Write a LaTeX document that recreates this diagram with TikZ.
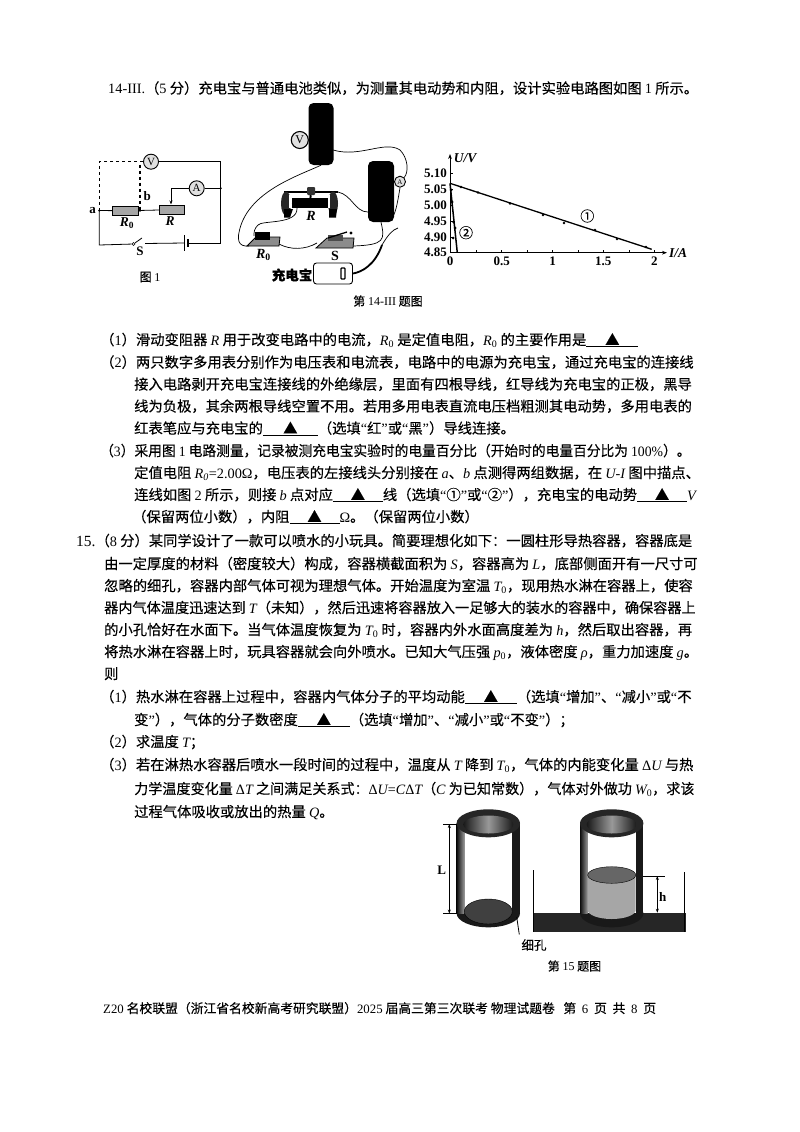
\documentclass[tikz,border=0pt]{standalone}
\usepackage{fontspec}
\usepackage{graphicx}
\setmainfont{Noto Sans CJK SC}[FakeBold=0.2]
\newfontfamily\latf{Liberation Serif}
\usetikzlibrary{arrows.meta}

\newcommand{\la}[1]{{\latf #1}}
\newcommand{\va}[1]{{\latf\itshape #1}}
\newcommand{\sbz}{\textsubscript{\latf 0}}
\newcommand{\blk}[1]{\underline{\makebox[#1pt]{▲}}}
\newcommand{\ql}{{\latf “}}
\newcommand{\qr}{{\latf ”}}

\tikzset{
  txt/.style={anchor=base west, inner sep=0pt, font=\fontsize{14.3}{17}\selectfont},
  cap14/.style={anchor=center, inner sep=0pt, font=\fontsize{12}{14}\selectfont},
  lbl/.style={anchor=center, inner sep=0pt, font=\fontsize{13}{15}\selectfont\latf\bfseries},
  ilbl/.style={anchor=center, inner sep=0pt, font=\fontsize{13.5}{15}\selectfont\latf\bfseries\itshape},
  ticklbl/.style={anchor=east, inner sep=0pt, font=\fontsize{13}{15}\selectfont\latf\bfseries},
  meter/.style={draw, circle, line width=0.9pt, fill=black!12, minimum size=15pt, inner sep=0pt, font=\fontsize{11}{12}\selectfont\latf},
  resbox/.style={draw, line width=0.9pt, fill=black!35, minimum width=26pt, minimum height=9.5pt, inner sep=0pt},
  wire/.style={line width=0.8pt},
  thinwire/.style={line width=0.7pt},
  cell/.style={draw=none, fill=black, rounded corners=3pt, inner sep=0pt},
  curveline/.style={line width=1.3pt},
  tickm/.style={line width=0.7pt},
  dimline/.style={line width=0.7pt, {Stealth[length=4pt]}-{Stealth[length=4pt]}},
}

\begin{document}
\begin{tikzpicture}[x=1pt, y=-1pt]

  \useasboundingbox (0,0) rectangle (800,1132);
  \fill[white] (0,0) rectangle (800,1132);

  \node (q14) [txt] at (108,93.5) {\la{14-III.}（\la{5} 分）充电宝与普通电池类似，为测量其电动势和内阻，设计实验电路图如图 \la{1} 所示。};

  % circuit
  \coordinate (tl) at (99.3,161.7);
  \coordinate (tm) at (140,161.7);
  \coordinate (tr) at (220.7,161.7);
  \coordinate (pa) at (99.3,210.5);
  \coordinate (pb) at (140,210.5);
  \coordinate (bl) at (99.3,245);
  \coordinate (br) at (220.7,243);
  \coordinate (am) at (220.7,188.3);
  \coordinate (sk) at (171,188.3);

  \node (vm) [meter] at (151,161.7) {V};
  \node (am1) [meter] at (196.7,188.3) {A};
  \node (r0) [resbox] at (125.3,210.8) {};
  \node (rr) [resbox, minimum width=25pt] at (171.8,209.7) {};
  \node (s1) [circle, draw, inner sep=0pt, minimum size=3pt, line width=0.7pt] at (133.5,244) {};
  \node (s2) at (145,243.5) [inner sep=0pt, minimum size=0pt] {};
  \node (bt1) at (184.5,243) [inner sep=0pt, minimum size=0pt] {};
  \node (bt2) at (188,243) [inner sep=0pt, minimum size=0pt] {};

  \draw[wire, dashed, line width=1.1pt] (vm) -- (tl) -- (pa);
  \draw[wire, dashed, line width=1.1pt] (vm) -| (pb);
  \draw[wire] (vm) -- (tr) -- (br) -- (bt2);
  \draw[wire] (pa) -- (r0);
  \draw[wire] (r0) -- (rr);
  \draw[wire] (pa) -- (bl) -- (s1);
  \draw[wire] (s1) -- (142,238);
  \draw[wire] (s2) -- (bt1);
  \draw[wire] (am1) -- (am);
  \draw[wire, -{Stealth[length=4pt]}] (am1) -- (sk) -- (rr.north -| sk);
  \draw[line width=1pt] (184.5,235) -- (184.5,251);
  \draw[line width=1.6pt] (188,239) -- (188,247);
  \fill (am) circle (1.2pt);
  \fill (pa) circle (1.2pt);
  \fill (pb) circle (1.4pt);

  \node (la) [lbl] at (92.7,210.5) {a};
  \node (lb) [lbl] at (147.3,196) {b};
  \node (lr0) [ilbl] at (127,223.5) {\textit{R}\textsubscript{\upshape 0}};
  \node (lr) [ilbl] at (170,221) {R};
  \node (ls) [lbl] at (140,251.5) {S};
  \node (lf1) [cap14] at (150,277) {图 \la{1}};

  % physical circuit
  \node (vcell) [cell, minimum width=25pt, minimum height=62pt, rounded corners=5pt] at (321,134) {};
  \node (acell) [cell, minimum width=26pt, minimum height=61pt, rounded corners=5pt] at (381,191.5) {};
  \node (vm2) [meter, minimum size=17pt, line width=1.1pt, font=\fontsize{12}{12}\selectfont\latf] at (299.8,140) {V};
  \node (am2) [meter, minimum size=11pt, font=\fontsize{7}{8}\selectfont\latf] at (400,181.7) {A};

  \draw[line width=1.2pt] (284,192) -- (338,192);
  \node (rbody) [draw=none, fill=black, minimum width=36pt, minimum height=10pt, inner sep=0pt] at (310,203) {};
  \node (rkn) [draw=none, fill=black!80, minimum width=8pt, minimum height=8pt, inner sep=0pt, rounded corners=1pt] at (311,191) {};
  \draw[line width=2pt] (rkn) -- (rbody);
  \fill[black!85] (286,203.5) ellipse [x radius=5pt, y radius=12pt];
  \fill[black!85] (333,203.5) ellipse [x radius=5pt, y radius=12pt];
  \fill[white] (289,195) rectangle (291,208);
  \fill[white] (328,195) rectangle (330,208);
  \fill (284,217.5) -- (290,217.5) -- (293,209) -- (284,209) -- cycle;
  \fill (329,217.5) -- (336,217.5) -- (337,209) -- (329,209) -- cycle;
  \node (lr2) [ilbl, font=\fontsize{14}{15}\selectfont\latf\bfseries\itshape] at (311,216) {R};

  \draw[line width=0.8pt, fill=black!45] (247,246) -- (279,246) -- (280,237) -- (256,237) -- cycle;
  \node (r0b) [draw=none, fill=black, minimum width=15pt, minimum height=8pt, inner sep=0pt] at (262,236) {};
  \node (lr02) [ilbl, font=\fontsize{14}{15}\selectfont\latf\bfseries\itshape] at (263.5,255) {\textit{R}\textsubscript{\upshape 0}};

  \draw[line width=0.8pt, fill=black!45] (316,248) -- (353,248) -- (354,238) -- (327,238) -- cycle;
  \node (swb) [draw=none, fill=black!70, minimum width=15pt, minimum height=6pt, inner sep=0pt] at (335,238) {};
  \draw[line width=1.3pt] (328,238) -- (347,232);
  \fill (351,233) circle (1.6pt);
  \node (ls2) [lbl, font=\fontsize{14}{15}\selectfont\latf\bfseries] at (335,256) {S};

  \node (pbank) [draw, rounded corners=3pt, line width=0.9pt, minimum width=39pt, minimum height=21pt, inner sep=0pt] at (333,273.5) {};
  \node (pdig) [draw, line width=1.2pt, rounded corners=0.8pt, minimum width=4pt, minimum height=11pt, inner sep=0pt] at (343,273.5) {};
  \node (lbank) [anchor=east, inner sep=0pt, font=\fontsize{13.5}{15}\selectfont\bfseries] at (312.5,275) {充电宝};

  \draw[thinwire] (vcell.south) .. controls (300,175) and (253,190) .. (241,225) .. controls (236,240) and (238,247) .. (249,246);
  \draw[thinwire] (333,150) .. controls (360,158) and (385,140) .. (400,150) .. controls (408,158) and (409,172) .. (am2.north east);
  \draw[thinwire] (am2.south) .. controls (398,200) and (396,212) .. (393,216);
  \draw[thinwire] (338,192) .. controls (352,195) and (355,212) .. (acell.west |- 0,212);
  \draw[thinwire] (acell.south) .. controls (385,240) and (385,245) .. (353,246);
  \draw[thinwire] (297,208) .. controls (298,225) and (262,220) .. (258,225) .. controls (254,229) and (254,232) .. (254,236);
  \draw[thinwire] (279,244) .. controls (290,250) and (305,250) .. (317,243);
  \draw[line width=1.8pt] (pbank.east) .. controls (362,272) and (375,265) .. (382,245);
  \draw[thinwire] (382,245) .. controls (388,235) and (392,230) .. (398,228);

  \node (lcap14) [cap14] at (388,301) {第 \la{14-III} 题图};

  % graph
  \coordinate (orig) at (450,252.7);
  \coordinate (ytop) at (450,154);
  \coordinate (xend) at (667,252.7);
  \draw[line width=1pt, -{Stealth[length=5pt]}] (orig) -- (ytop);
  \draw[line width=1pt, -{Stealth[length=5pt]}] (orig) -- (xend);
  \foreach \yt/\ylab in {252.7/4.85, 237.3/4.90, 221.7/4.95, 205/5.00, 189.3/5.05, 173.3/5.10} {
    \draw[tickm] (450,\yt) -- (453,\yt);
    \node [ticklbl] at (447,\yt) {\ylab};
  }
  \foreach \xt in {476,501.7,527,552.7,578,603.3,629,654.3} {
    \draw[tickm] (\xt,252.7) -- (\xt,249.7);
  }
  \foreach \xt/\xlab in {450/0, 501.7/0.5, 552.7/1, 603.3/1.5, 654.3/2} {
    \node [lbl] at (\xt,261.5) {\xlab};
  }
  \node (lu) [ilbl] at (465,158) {U/V};
  \node (li) [ilbl] at (678,253) {I/A};
  \coordinate (l1a) at (450,183.3);
  \coordinate (l1b) at (651.7,249.3);
  \coordinate (l2b) at (457.3,252.7);
  \draw[curveline] (l1a) -- (l1b);
  \draw[curveline, line width=1.5pt] (l1a) -- (l2b);
  \foreach \px/\py in {461/187, 478/192.5, 510/203.5, 543/215, 564/223, 595/230, 617/239, 646/247} {
    \fill (\px,\py) circle (1.3pt);
  }
  \foreach \px/\py in {451/190, 452/202, 453.5/222, 455/228, 453/238} {
    \fill (\px,\py) circle (1.5pt);
  }
  \node (c1) [inner sep=0pt, font=\fontsize{14}{15}\selectfont] at (587.3,216) {①};
  \node (c2) [inner sep=0pt, font=\fontsize{14}{15}\selectfont] at (466,232.7) {②};

  % question 14 text
  \node (a1) [txt] at (100,345) {（\la{1}）滑动变阻器 \va{R} 用于改变电路中的电流，\va{R}\sbz{} 是定值电阻，\va{R}\sbz{} 的主要作用是\blk{52}};
  \node (a2) [txt] at (100,367.5) {（\la{2}）两只数字多用表分别作为电压表和电流表，电路中的电源为充电宝，通过充电宝的连接线};
  \node (a3) [txt] at (134,389.5) {接入电路剥开充电宝连接线的外绝缘层，里面有四根导线，红导线为充电宝的正极，黑导};
  \node (a4) [txt] at (134,411.5) {线为负极，其余两根导线空置不用。若用多用电表直流电压档粗测其电动势，多用电表的};
  \node (a5) [txt] at (134,433.5) {红表笔应与充电宝的\blk{55}（选填\ql 红\qr 或\ql 黑\qr）导线连接。};
  \node (a6) [txt] at (100,456) {\scalebox{0.96}[1]{（\la{3}）采用图 \la{1} 电路测量，记录被测充电宝实验时的电量百分比（开始时的电量百分比为 \la{100\%}）。}};
  \node (a7) [txt] at (134,478) {定值电阻 \va{R}\textsubscript{\va{0}}\la{=2.00Ω}，电压表的左接线头分别接在 \va{a}、\va{b} 点测得两组数据，在 \va{U-I} 图中描点、};
  \node (a8) [txt] at (134,500) {连线如图 \la{2} 所示，则接 \va{b} 点对应\blk{50}线（选填\ql ①\qr 或\ql ②\qr），充电宝的电动势\blk{50}\va{V}};
  \node (a9) [txt] at (132,522) {（保留两位小数），内阻\blk{50}\la{Ω}。（保留两位小数）};

  % question 15 text
  \node (b1) [txt] at (76,546) {{\latf\fontsize{15.5}{17}\selectfont 15.}（\la{8} 分）某同学设计了一款可以喷水的小玩具。简要理想化如下：一圆柱形导热容器，容器底是};
  \node (b2) [txt] at (104,569) {由一定厚度的材料（密度较大）构成，容器横截面积为 \va{S}，容器高为 \va{L}，底部侧面开有一尺寸可};
  \node (b3) [txt] at (104,591) {忽略的细孔，容器内部气体可视为理想气体。开始温度为室温 \va{T}\sbz，现用热水淋在容器上，使容};
  \node (b4) [txt] at (104,613) {\scalebox{0.99}[1]{器内气体温度迅速达到 \va{T}（未知），然后迅速将容器放入一足够大的装水的容器中，确保容器上}};
  \node (b5) [txt] at (104,635) {的小孔恰好在水面下。当气体温度恢复为 \va{T}\sbz{} 时，容器内外水面高度差为 \va{h}，然后取出容器，再};
  \node (b6) [txt] at (104,657) {将热水淋在容器上时，玩具容器就会向外喷水。已知大气压强 \va{p}\sbz，液体密度 \va{ρ}，重力加速度 \va{g}。};
  \node (b7) [txt] at (104,679) {则};
  \node (b8) [txt] at (100,702) {（\la{1}）热水淋在容器上过程中，容器内气体分子的平均动能\blk{52}（选填\ql 增加\qr、\ql 减小\qr 或\ql 不};
  \node (b9) [txt] at (134,725) {变\qr），气体的分子数密度\blk{52}（选填\ql 增加\qr、\ql 减小\qr 或\ql 不变\qr）；};
  \node (b10) [txt] at (100,747) {（\la{2}）求温度 \va{T}；};
  \node (b11) [txt] at (100,770) {（\la{3}）若在淋热水容器后喷水一段时间的过程中，温度从 \va{T} 降到 \va{T}\sbz，气体的内能变化量 \la{Δ}\va{U} 与热};
  \node (b12) [txt] at (134,794) {\scalebox{0.985}[1]{力学温度变化量 \la{Δ}\va{T} 之间满足关系式：\la{Δ}\va{U}\la{=}\va{C}\la{Δ}\va{T}（\va{C} 为已知常数），气体对外做功 \va{W}\sbz，求该}};
  \node (b13) [txt] at (134,817) {过程气体吸收或放出的热量 \va{Q}。};

  % cylinders
  \fill[black!85] (533.3,912.7) rectangle (685.7,931.7);
  \draw[line width=1pt] (533.3,870) -- (533.3,932);
  \draw[line width=1pt] (684.5,872) -- (684.5,932);

  \foreach \cx in {488.3, 611.7} {
    \fill[black!90] (\cx,913.3) ellipse [x radius=31.7pt, y radius=14pt];
    \fill[white] (\cx-24,823) rectangle (\cx+24,913);
    \shade[left color=black!95, right color=black!40] (\cx-31.7,823) rectangle (\cx-24,913.3);
    \fill[black!90] (\cx+24,823) rectangle (\cx+31.7,913.3);
    \fill[black!85] (\cx,823.3) ellipse [x radius=31.7pt, y radius=14pt];
    \shade[left color=black!90, right color=black!90, middle color=black!40] (\cx,824.5) ellipse [x radius=25pt, y radius=9pt];
  }

  \fill[black!75, draw=black] (488.3,911.5) ellipse [x radius=24pt, y radius=12.5pt];

  \fill[black!35] (587.7,875) -- (587.7,910) arc[start angle=180, end angle=360, x radius=24pt, y radius=9pt] -- (635.7,875) -- cycle;
  \fill[black!60, draw=black] (611.7,875) ellipse [x radius=24pt, y radius=8.3pt];

  \coordinate (lt1) at (443.3,824);
  \coordinate (lt2) at (456.7,824);
  \coordinate (lb1) at (443.3,913.5);
  \coordinate (lb2) at (456.7,913.5);
  \coordinate (lm1) at (449.3,824);
  \coordinate (lm2) at (449.3,913.5);
  \draw[line width=0.8pt] (lt1) -- (lt2);
  \draw[line width=0.8pt] (lb1) -- (lb2);
  \draw[dimline] (lm1) -- (lm2);
  \node (ll) [lbl] at (441.7,870) {L};

  \coordinate (hole) at (516.7,917);
  \coordinate (holee) at (519.3,934.5);
  \draw[line width=0.8pt] (hole) -- (holee);
  \node (lhole) [cap14, font=\fontsize{12.5}{14}\selectfont] at (534,945) {细孔};

  \coordinate (ht1) at (643.3,876);
  \coordinate (ht2) at (665,876);
  \coordinate (hm1) at (657.3,876);
  \coordinate (hm2) at (657.3,912.7);
  \draw[line width=0.8pt] (ht1) -- (ht2);
  \draw[dimline] (hm1) -- (hm2);
  \node (lh) [lbl] at (662.7,897) {h};

  \node (lcap15) [cap14] at (574.5,966) {第 \la{15} 题图};

  \node (foot) [txt, font=\fontsize{12.8}{15}\selectfont] at (103,1013) {\la{Z20} 名校联盟（浙江省名校新高考研究联盟）\la{2025} 届高三第三次联考 物理试题卷 \ \ 第 \ \la{6} \ 页 \ 共 \ \la{8} \ 页};

\end{tikzpicture}
\end{document}
